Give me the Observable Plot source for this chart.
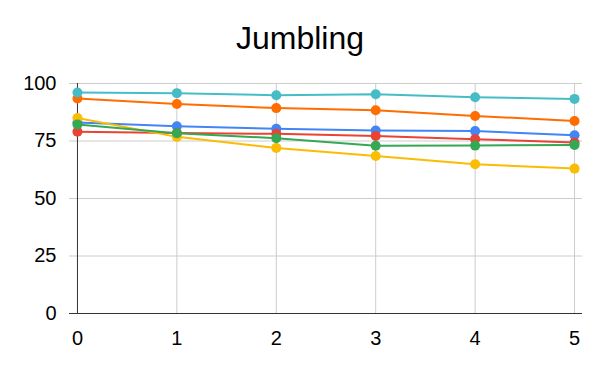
<!DOCTYPE html>
<html>
<head>
<meta charset="utf-8">
<script src="https://cdn.jsdelivr.net/npm/d3@7"></script>
<script src="https://cdn.jsdelivr.net/npm/@observablehq/plot@0.6"></script>
<style>
  html, body { margin: 0; padding: 0; background: #fff; }
  #title { height: 60px; width: 600px; text-align: center; font-family: "Liberation Sans", Arial, sans-serif; font-size: 32px; color: #000; line-height: 32px; padding-top: 22px; box-sizing: border-box; }
  #chart svg { display: block; }
</style>
</head>
<body>
<div id="title">Jumbling</div>
<div id="chart"></div>
<script>
const xs = [0, 1, 2, 3, 4, 5];
const seriesNames = ["Series 1", "Series 2", "Series 3", "Series 4", "Series 5", "Series 6"];
const seriesColors = ["#4285f4", "#ea4335", "#fbbc04", "#34a853", "#ff6d01", "#46bdc6"];
const series1Values = [83.0, 81.4, 80.3, 79.6, 79.3, 77.5];
const series2Values = [79.0, 78.5, 78.1, 77.2, 75.8, 74.3];
const series3Values = [85.0, 76.8, 72.0, 68.5, 64.9, 63.0];
const series4Values = [82.2, 78.4, 76.2, 72.9, 73.0, 73.3];
const series5Values = [93.5, 91.1, 89.3, 88.4, 85.9, 83.7];
const series6Values = [96.1, 95.8, 94.9, 95.3, 94.0, 93.3];
const yTicks = [0, 25, 50, 75, 100];
const xTicks = [0, 1, 2, 3, 4, 5];

const allValues = [series1Values, series2Values, series3Values, series4Values, series5Values, series6Values];
const data = [];
seriesNames.forEach((s, i) => xs.forEach((x, j) => data.push({series: s, x, y: allValues[i][j]})));

const font = "Liberation Sans, Arial, sans-serif";
const chart = Plot.plot({
  width: 600,
  height: 311,
  marginLeft: 69,
  marginRight: 18,
  marginTop: 23,
  marginBottom: 58,
  style: {fontFamily: font, fontSize: "20px", color: "#000", background: "#fff"},
  x: {domain: [-0.08, 5.08]},
  y: {domain: [0, 100]},
  color: {domain: seriesNames, range: seriesColors},
  marks: [
    Plot.ruleY(yTicks, {stroke: "#cccccc", strokeWidth: 1}),
    Plot.ruleX(xTicks.slice(1), {stroke: "#cccccc", strokeWidth: 1}),
    Plot.ruleX([0], {stroke: "#333333", strokeWidth: 1}),
    Plot.ruleY([0], {stroke: "#333333", strokeWidth: 1}),
    Plot.axisY({ticks: yTicks, tickSize: 0, tickPadding: 13, label: null, fontSize: 20, tickFormat: d3.format("d")}),
    Plot.axisX({ticks: xTicks, tickSize: 0, tickPadding: 17, label: null, fontSize: 20, tickFormat: d3.format("d")}),
    Plot.line(data, {x: "x", y: "y", z: "series", stroke: "series", strokeWidth: 2}),
    Plot.dot(data, {x: "x", y: "y", fill: "series", r: 5})
  ]
});
document.getElementById("chart").appendChild(chart);
</script>
</body>
</html>
